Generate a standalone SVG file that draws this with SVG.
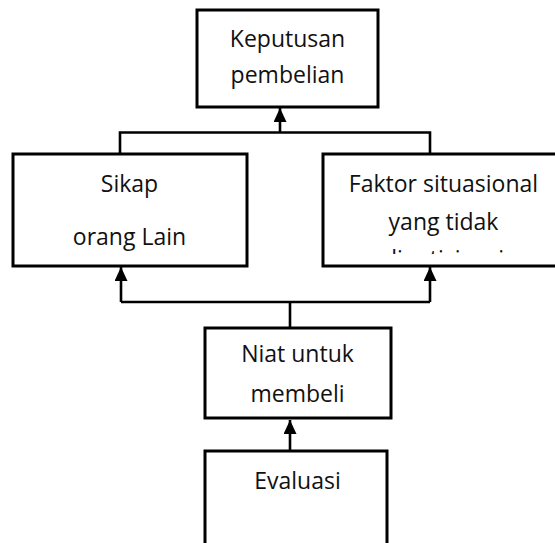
<svg xmlns="http://www.w3.org/2000/svg" width="555" height="543" viewBox="0 0 555 543">
  <style>
    .box { fill: #ffffff; stroke: #000000; stroke-width: 3; }
    .lbl { font-family: "Open Sans", "DejaVu Sans", sans-serif; font-size: 23px; fill: #111111; text-anchor: middle; }
    .wire { fill: none; stroke: #000000; stroke-width: 2.6; }
  </style>
  <defs>
    <!-- filled triangular head, drawn along +x so orient="auto" follows the line -->
    <marker id="head" markerUnits="userSpaceOnUse" markerWidth="14" markerHeight="13" viewBox="0 0 14 13" refX="14" refY="6.5" orient="auto">
      <path d="M0 0 L14 6.5 L0 13 Z" fill="#000000"/>
    </marker>
    <clipPath id="cut-third-line">
      <rect x="322" y="150" width="233" height="104"/>
    </clipPath>
  </defs>

  <rect width="555" height="543" fill="#ffffff"/>

  <!-- connectors -->
  <g id="connectors">
    <!-- evaluation up to intention -->
    <line class="wire" x1="290" y1="450" x2="290" y2="420" marker-end="url(#head)"/>
    <!-- intention splits to both influencing factors -->
    <path class="wire" d="M290 327 V302"/>
    <path class="wire" d="M121 302 H430"/>
    <line class="wire" x1="121" y1="302" x2="121" y2="267" marker-end="url(#head)"/>
    <line class="wire" x1="430" y1="302" x2="430" y2="267" marker-end="url(#head)"/>
    <!-- both factors merge into the decision -->
    <path class="wire" d="M120 153 V132.5 H430 V153"/>
    <line class="wire" x1="280" y1="132.5" x2="280" y2="108" marker-end="url(#head)"/>
  </g>

  <g id="keputusan">
    <rect class="box" x="197" y="10" width="181" height="97"/>
    <text class="lbl" x="287.5" y="47">Keputusan</text>
    <text class="lbl" x="287.5" y="83">pembelian</text>
  </g>

  <g id="sikap">
    <rect class="box" x="13" y="154" width="234" height="112"/>
    <text class="lbl" x="129.5" y="192">Sikap</text>
    <text class="lbl" x="129.5" y="245">orang Lain</text>
  </g>

  <g id="faktor">
    <rect class="box" x="323" y="154" width="240" height="112"/>
    <text class="lbl" x="443.5" y="192">Faktor situasional</text>
    <text class="lbl" x="443.5" y="230">yang tidak</text>
    <text class="lbl" x="443.5" y="267" clip-path="url(#cut-third-line)">diantisipasi</text>
  </g>

  <g id="niat">
    <rect class="box" x="205" y="328" width="186" height="90"/>
    <text class="lbl" x="297.5" y="362">Niat untuk</text>
    <text class="lbl" x="297.5" y="402">membeli</text>
  </g>

  <g id="evaluasi">
    <rect class="box" x="205" y="451" width="182" height="95"/>
    <text class="lbl" x="297.5" y="489">Evaluasi</text>
  </g>
</svg>
